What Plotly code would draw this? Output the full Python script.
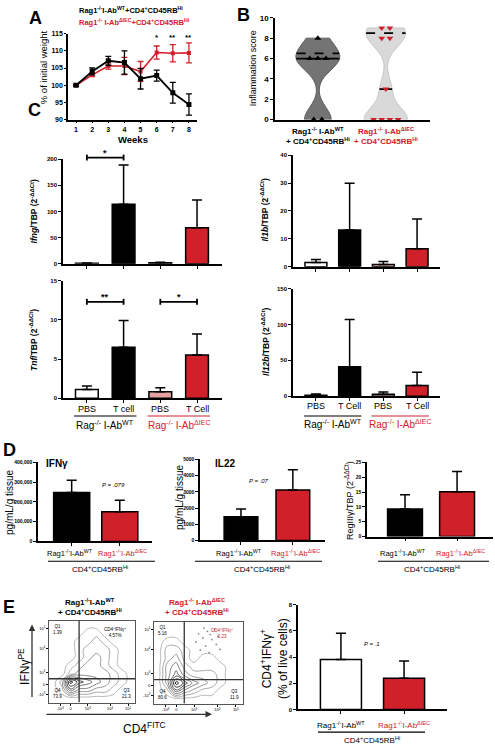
import numpy as np
import plotly.graph_objects as go

W, H = 495, 750
FONT = "Arial, 'Liberation Sans', sans-serif"
RED = "#d0202a"
PINK = "#e3a3a3"

# ---------------- data ----------------
# A: body weight
weeks = [1, 2, 3, 4, 5, 6, 7, 8]
wt_weight = [100, 104.0, 107.1, 106.6, 101.9, 102.8, 97.8, 94.4]
wt_weight_sem = [0.3, 1.0, 1.3, 3.4, 3.0, 1.6, 3.0, 3.1]
iec_weight = [100, 103.0, 105.6, 105.6, 104.0, 109.5, 109.3, 109.4]
iec_weight_sem = [0.2, 0.5, 0.9, 2.5, 2.9, 1.9, 2.5, 2.9]
weight_sig = ["", "", "", "", "", "*", "**", "**"]

# B: inflammation score
wt_scores = [8, 6, 6, 6, 0, 0]
iec_scores = [9, 9, 8, 8, 3, 0, 0, 0, 0]

# C: qPCR
c_groups_top = ["PBS", "T cell", "PBS", "T Cell"]
c_groups_il12 = ["PBS", "T Cell", "PBS", "T Cell"]
ifng_mean = [1.0, 114, 2.0, 69]
ifng_err = [0.5, 75, 1.0, 53]
ifng_sig = [((0, 1), 203, "*")]
il1b_mean = [1.5, 13.2, 0.8, 6.5]
il1b_err = [1.1, 16.7, 1.1, 10.6]
tnf_mean = [1.1, 6.5, 0.84, 5.5]
tnf_err = [0.45, 3.4, 0.5, 2.7]
tnf_sig = [((0, 1), 12.3, "**"), ((2, 3), 12.3, "*")]
il12b_mean = [1.5, 41, 2.8, 15]
il12b_err = [1.5, 66, 3.2, 18.5]

# D: cytokines
ifng_prot = [248000, 150000]
ifng_prot_err = [62000, 58000]
il22_prot = [1470, 3110]
il22_prot_err = [470, 1250]
reg3g = [9.3, 15.1]
reg3g_err = [4.8, 6.8]

# E: flow cytometry (contour level grids, rows bottom->top, cols left->right)
flow_wt_levels = [
    [0, 0, 0, 0, 0, 0, 0, 0, 0, 0],
    [0, 1, 5, 3, 3, 2, 2, 1, 0, 0],
    [0, 2, 8, 6, 5, 4, 3, 2, 1, 0],
    [0, 0, 2, 3, 3, 3, 3, 2, 1, 0],
    [0, 0, 1, 2, 3, 3, 2, 1, 0, 0],
    [0, 0, 0, 1, 2, 3, 2, 1, 0, 0],
    [0, 0, 0, 1, 2, 2, 2, 1, 0, 0],
    [0, 0, 0, 1, 1, 2, 1, 0, 0, 0],
    [0, 0, 0, 0, 1, 1, 0, 0, 0, 0],
    [0, 0, 0, 0, 0, 0, 0, 0, 0, 0],
]
flow_iec_levels = [
    [0, 0, 0, 0, 0, 0, 0, 0, 0, 0],
    [0, 1, 5, 3, 2, 1, 1, 0, 0, 0],
    [0, 3, 8, 6, 4, 3, 2, 1, 0, 0],
    [0, 3, 5, 3, 2, 2, 2, 1, 0, 0],
    [0, 3, 4, 2, 1, 1, 1, 1, 0, 0],
    [0, 2, 3, 1, 0, 1, 1, 0, 0, 0],
    [0, 2, 2, 1, 0, 0, 0, 0, 0, 0],
    [0, 1, 1, 0, 0, 0, 0, 0, 0, 0],
    [0, 0, 0, 0, 0, 0, 0, 0, 0, 0],
    [0, 0, 0, 0, 0, 0, 0, 0, 0, 0],
]
flow_iec_events_x = [0.50, 0.55, 0.60, 0.65, 0.58, 0.70, 0.52, 0.62, 0.47, 0.68, 0.74, 0.56, 0.63, 0.72]
flow_iec_events_y = [0.85, 0.80, 0.88, 0.78, 0.70, 0.72, 0.65, 0.62, 0.75, 0.90, 0.66, 0.92, 0.84, 0.82]
flow_ticks = ["-10<sup>3</sup>", "0", "10<sup>3</sup>", "10<sup>4</sup>", "10<sup>5</sup>"]
flow_wt_quadrants = ["1.39", "4.57%", "73.9", "21.3"]
flow_iec_quadrants = ["5.16", "2.23", "80.6", "11.9"]
flow_gate = {"F1": (0.35, 0.29), "F2": (0.34, 0.29)}

cd4_ifng = [3.82, 2.39]
cd4_ifng_err = [2.0, 1.3]

# ---------------- layout helpers ----------------
AX = {
    'A': dict(n='', xd=(68, 197), yd=(30, 117), xr=(0.5, 8.5), yr=(90, 115)),
    'B': dict(n='2', xd=(275, 430), yd=(14, 117), xr=(-0.63, 1.65), yr=(0, 10)),
    'C1': dict(n='3', xd=(63, 222), yd=(157, 263), xr=(-0.65, 3.68), yr=(0, 200)),
    'C2': dict(n='4', xd=(293, 440), yd=(153, 266), xr=(-0.68, 3.68), yr=(0, 40)),
    'C3': dict(n='5', xd=(63, 222), yd=(280, 399), xr=(-0.65, 3.68), yr=(0, 15)),
    'C4': dict(n='6', xd=(293, 440), yd=(288, 397), xr=(-0.68, 3.68), yr=(0, 150)),
    'D1': dict(n='7', xd=(38, 152), yd=(464, 544), xr=(-0.7, 1.67), yr=(0, 400000)),
    'D2': dict(n='8', xd=(200, 325), yd=(461, 543), xr=(-0.79, 1.62), yr=(0, 5000)),
    'D3': dict(n='9', xd=(367, 493), yd=(464, 539), xr=(-0.73, 1.69), yr=(0, 25)),
    'F1': dict(n='10', xd=(49, 135), yd=(624, 707), xr=(0, 1), yr=(0, 1)),
    'F2': dict(n='11', xd=(154, 243), yd=(625, 708), xr=(0, 1), yr=(0, 1)),
    'E': dict(n='12', xd=(298, 447), yd=(608, 714), xr=(-0.68, 1.68), yr=(0, 8)),
}


def X(key, v):
    a = AX[key]
    x0, x1 = a['xd']; r0, r1 = a['xr']
    return x0 + (v - r0) / (r1 - r0) * (x1 - x0)


def Y(key, v):
    a = AX[key]
    yt, yb = a['yd']; r0, r1 = a['yr']
    return yb - (v - r0) / (r1 - r0) * (yb - yt)


layout = {}
annotations = []
shapes = []


def tfont(size, color='black', bold=True):
    return dict(family=FONT, size=size, color=color, weight='bold' if bold else 'normal')


def setup(key, xextra=None, yextra=None):
    a = AX[key]; n = a['n']
    base = dict(showline=True, linecolor='black', linewidth=1.5, ticks='outside', ticklen=3,
                tickwidth=1.2, tickcolor='black', showgrid=False, zeroline=False,
                tickfont=tfont(6), fixedrange=True)
    layout['xaxis' + n] = {**base, 'domain': [a['xd'][0] / W, a['xd'][1] / W],
                           'range': list(a['xr']), 'anchor': 'y' + n, **(xextra or {})}
    layout['yaxis' + n] = {**base, 'domain': [1 - a['yd'][1] / H, 1 - a['yd'][0] / H],
                           'range': list(a['yr']), 'anchor': 'x' + n, **(yextra or {})}


def T(text, x, y, size=8, color='black', bold=False, italic=False, angle=0, xa='center', ya='middle'):
    annotations.append(dict(text=text, x=x / W, y=1 - y / H, xref='paper', yref='paper',
                            showarrow=False, textangle=angle, xanchor=xa, yanchor=ya,
                            font=dict(family=FONT, size=size, color=color,
                                      weight='bold' if bold else 'normal',
                                      style='italic' if italic else 'normal')))


def L(x0, y0, x1, y1, color='black', width=1.5, dash='solid'):
    shapes.append(dict(type='line', xref='paper', yref='paper', x0=x0 / W, y0=1 - y0 / H,
                       x1=x1 / W, y1=1 - y1 / H, line=dict(color=color, width=width, dash=dash)))


def ref(key):
    n = AX[key]['n']
    return dict(xaxis='x' + n, yaxis='y' + n)


fig = go.Figure()


def bars(key, means, errs, fills, width):
    fig.add_trace(go.Bar(x=list(range(len(means))), y=means, width=width,
                         marker=dict(color=fills, line=dict(color='black', width=1.5)),
                         error_y=dict(type='data', symmetric=False, array=errs,
                                      arrayminus=[0] * len(errs), color='black',
                                      thickness=1.5, width=5),
                         showlegend=False, hoverinfo='skip', **ref(key)))


def brackets(key, sigs):
    for (i, j), lvl, txt in sigs:
        xa, xb, yy = X(key, i), X(key, j), Y(key, lvl)
        L(xa, yy, xb, yy, width=1.8)
        L(xa, yy - 3, xa, yy + 3, width=1.8)
        L(xb, yy - 3, xb, yy + 3, width=1.8)
        T(txt, (xa + xb) / 2, yy - 5, size=9, bold=True)


# ---------------- Panel A ----------------
setup('A', dict(tickvals=weeks, tickfont=tfont(7), ticklen=2),
      dict(tickvals=[90, 95, 100, 105, 110, 115], tickfont=tfont(7), ticklen=2))
fig.add_trace(go.Scatter(x=weeks, y=iec_weight, mode='lines+markers',
                         line=dict(color=RED, width=1.6),
                         marker=dict(symbol='square', size=4, color=RED),
                         error_y=dict(type='data', array=iec_weight_sem, color=RED, thickness=1.3, width=3),
                         showlegend=False, **ref('A')))
fig.add_trace(go.Scatter(x=weeks, y=wt_weight, mode='lines+markers',
                         line=dict(color='black', width=1.8),
                         marker=dict(symbol='square', size=5, color='black'),
                         error_y=dict(type='data', array=wt_weight_sem, color='black', thickness=1.3, width=3),
                         showlegend=False, **ref('A')))
for w, s in zip(weeks, weight_sig):
    if s:
        T(s, X('A', w), Y('A', 114), size=8, bold=True)
T("A", 35, 14, size=18, bold=True)
T("Rag1<sup>-/-</sup>I-Ab<sup>WT</sup>+CD4<sup>+</sup>CD45RB<sup>Hi</sup>", 77, 6, size=7.5, bold=True, xa='left')
T("Rag1<sup>-/-</sup> I-Ab<sup>ΔIEC</sup>+CD4<sup>+</sup>CD45RB<sup>Hi</sup>", 77, 18, size=7.5, bold=True, color=RED, xa='left')
T("% of initial weight", 43, 64, size=9.5, angle=-90)
T("Weeks", 133, 137, size=9.5, bold=True)

# ---------------- Panel B ----------------
setup('B', dict(showticklabels=False, ticks=''),
      dict(tickvals=[0, 2, 4, 6, 8, 10], tickfont=tfont(8)))
BW = 1.2
VW = 0.64


def kde(vals, v):
    vals = np.asarray(vals, float)
    return float(np.sum(np.exp(-0.5 * ((v - vals) / BW) ** 2)))


for pos, vals, fill, lcol, msym, mcol in [
        (0, wt_scores, '#747474', '#5c5c5c', 'triangle-up', 'black'),
        (1, iec_scores, '#d9d9d9', '#c6c6c6', 'triangle-down', RED)]:
    fig.add_trace(go.Violin(x0=pos, y=vals, width=VW, bandwidth=BW, spanmode='hard',
                            scalemode='width', points=False, fillcolor=fill,
                            line=dict(color=lcol, width=1), opacity=1,
                            showlegend=False, hoverinfo='skip', **ref('B')))
    grid = np.linspace(min(vals), max(vals), 400)
    kmax = max(kde(vals, g) for g in grid)
    q1, med, q3 = np.percentile(vals, [25, 50, 75], method='weibull')
    for lvl, dash in [(q3, 'dash'), (med, 'solid')]:
        hw = VW / 2 * kde(vals, lvl) / kmax
        fig.add_trace(go.Scatter(x=[pos - hw, pos + hw], y=[lvl, lvl], mode='lines',
                                 line=dict(color='black', width=1.8, dash=dash),
                                 showlegend=False, hoverinfo='skip', **ref('B')))
    xs = []
    ys = []
    for v in sorted(set(vals), reverse=True):
        k = vals.count(v)
        for i in range(k):
            xs.append(pos + (i - (k - 1) / 2) * 0.12)
            ys.append(v)
    fig.add_trace(go.Scatter(x=xs, y=ys, mode='markers', cliponaxis=False,
                             marker=dict(symbol=msym, size=6, color=mcol),
                             showlegend=False, hoverinfo='skip', **ref('B')))
T("B", 243, 11, size=18, bold=True)
T("Inflammation score", 253, 65, size=9, angle=-90)
T("Rag1<sup>-/-</sup> I-Ab<sup>WT</sup>", X('B', 0), 129, size=8, bold=True)
T("+ CD4<sup>+</sup>CD45RB<sup>Hi</sup>", X('B', 0), 139, size=8, bold=True)
T("Rag1<sup>-/-</sup> I-Ab<sup>ΔIEC</sup>", X('B', 1), 129, size=8, bold=True, color=RED)
T("+ CD4<sup>+</sup>CD45RB<sup>Hi</sup>", X('B', 1), 139, size=8, bold=True, color=RED)

# ---------------- Panel C ----------------
c_fills = ['white', 'black', PINK, RED]
cat4 = dict(tickvals=[0, 1, 2, 3], showticklabels=False)
setup('C1', cat4, dict(tickvals=[0, 50, 100, 150, 200]))
setup('C2', cat4, dict(tickvals=[0, 10, 20, 30, 40]))
setup('C3', cat4, dict(tickvals=[0, 5, 10, 15]))
setup('C4', cat4, dict(tickvals=[0, 50, 100, 150]))
bars('C1', ifng_mean, ifng_err, c_fills, 0.62)
bars('C2', il1b_mean, il1b_err, c_fills, 0.65)
bars('C3', tnf_mean, tnf_err, c_fills, 0.62)
bars('C4', il12b_mean, il12b_err, c_fills, 0.65)
brackets('C1', ifng_sig)
brackets('C3', tnf_sig)
T("C", 34, 107, size=18, bold=True)
T("<i>Ifng</i>/TBP (2<sup>-ΔΔCt</sup>)", 34, 210, size=8.5, bold=True, angle=-90)
T("<i>Il1b</i>/TBP (2<sup>-ΔΔCt</sup>)", 265, 208, size=8.5, bold=True, angle=-90)
T("<i>Tnf</i>/TBP (2<sup>-ΔΔCt</sup>)", 34, 340, size=8.5, bold=True, angle=-90)
T("<i>Il12b</i>/TBP (2<sup>-ΔΔCt</sup>)", 266, 342, size=8.5, bold=True, angle=-90)
for key, labels, ylab, yline, ygrp in [('C3', c_groups_top, 410, 417, 426),
                                       ('C4', c_groups_il12, 407, 417, 425)]:
    for i, lab in enumerate(labels):
        T(lab, X(key, i), ylab, size=9)
    L(X(key, -0.35), yline, X(key, 1.35), yline, width=1.2)
    L(X(key, 1.65), yline, X(key, 3.35), yline, color=RED, width=1.2)
    T("Rag<sup>-/-</sup> I-Ab<sup>WT</sup>", X(key, 0.5), ygrp, size=10)
    T("Rag<sup>-/-</sup> I-Ab<sup>ΔIEC</sup>", X(key, 2.5), ygrp, size=10, color=RED)

# ---------------- Panel D ----------------
cat2 = dict(tickvals=[0, 1], showticklabels=False)
setup('D1', cat2, dict(tickvals=[0, 100000, 200000, 300000, 400000], tickformat=',', tickfont=tfont(5)))
setup('D2', cat2, dict(tickvals=[0, 1000, 2000, 3000, 4000, 5000], tickformat='d', tickfont=tfont(5)))
setup('D3', cat2, dict(tickvals=[0, 5, 10, 15, 20, 25], tickfont=tfont(5)))
bars('D1', ifng_prot, ifng_prot_err, ['black', RED], 0.75)
bars('D2', il22_prot, il22_prot_err, ['black', RED], 0.65)
bars('D3', reg3g, reg3g_err, ['black', RED], 0.67)
T("D", 9, 451, size=18, bold=True)
T("IFNγ", 57, 465, size=10, bold=True)
T("IL22", 225, 465, size=10, bold=True)
T("<i>P</i> = .079", 113, 487, size=6, italic=True)
T("<i>P</i> = .07", 259, 483, size=6, italic=True)
T("pg/mL/g tissue", 10, 505, size=10, angle=-90)
T("pg/mL/g tissue", 179, 500, size=10, angle=-90)
T("RegIIIγ/TBP (2<sup>-ΔΔCt</sup>)", 349, 503, size=9, angle=-90)
for key, lx0, lx1, cx in [('D1', 48, 155, 100), ('D2', 195, 322, 262), ('D3', 378, 489, 432)]:
    T("Rag1<sup>-/-</sup>I-Ab<sup>WT</sup>", X(key, 0) - 2, 556, size=7.5)
    T("Rag1<sup>-/-</sup>I-Ab<sup>ΔIEC</sup>", X(key, 1) + 3, 556, size=7.5, color=RED)
    L(lx0, 564, lx1, 564, width=1.2)
    T("CD4<sup>+</sup>CD45RB<sup>Hi</sup>", cx, 572, size=8)

# ---------------- Panel E: flow plots ----------------
ftick_x = [0.13, 0.25, 0.45, 0.71, 0.92]
ftick_y = [0.10, 0.22, 0.37, 0.66, 0.90]
gridc = list(np.linspace(0.05, 0.95, 10))
for key, levels in [('F1', flow_wt_levels), ('F2', flow_iec_levels)]:
    setup(key,
          dict(tickvals=ftick_x, ticktext=flow_ticks, tickfont=tfont(4, bold=False), mirror=True,
               linecolor='#555555', linewidth=1, ticklen=2, tickwidth=0.8),
          dict(tickvals=ftick_y, ticktext=flow_ticks, tickfont=tfont(4, bold=False), mirror=True,
               linecolor='#555555', linewidth=1, ticklen=2, tickwidth=0.8))
    fig.add_trace(go.Contour(z=levels, x=gridc, y=gridc, showscale=False, hoverinfo='skip',
                             contours=dict(coloring='lines', start=0.5, end=8, size=1),
                             colorscale=[[0, '#b0b0b0'], [0.5, '#707070'], [1, '#000000']],
                             line=dict(width=0.9, smoothing=1.3), **ref(key)))
    gx, gy = flow_gate[key]
    n = AX[key]['n']
    shapes.append(dict(type='line', xref='x' + n, yref='y' + n, x0=gx, x1=gx, y0=0, y1=1,
                       line=dict(color='#333333', width=1.3)))
    shapes.append(dict(type='line', xref='x' + n, yref='y' + n, x0=0, x1=1, y0=gy, y1=gy,
                       line=dict(color='#333333', width=1.3)))
fig.add_trace(go.Scatter(x=flow_iec_events_x, y=flow_iec_events_y, mode='markers',
                         marker=dict(size=1.8, color='#888888'), showlegend=False,
                         hoverinfo='skip', **ref('F2')))
for key, q, col in [('F1', flow_wt_quadrants, 'black'), ('F2', flow_iec_quadrants, RED)]:
    x0, x1 = AX[key]['xd']
    yt, yb = AX[key]['yd']
    T("Q1<br>" + q[0], x0 + 2, yt + 2, size=4.5, xa='left', ya='top')
    T("CD4<sup>+</sup>IFNγ<sup>+</sup><br>" + q[1], x0 + 0.62 * (x1 - x0), yt + 4, size=4.5,
      color=col, xa='left', ya='top')
    T("Q4<br>" + q[2], x0 + 2, yb - 2, size=4.5, xa='left', ya='bottom')
    T("Q3<br>" + q[3], x1 - 2, yb - 2, size=4.5, xa='right', ya='bottom')
T("E", 9, 610, size=18, bold=True)
T("Rag1<sup>-/-</sup>I-Ab<sup>WT</sup>", 90, 605, size=8, bold=True)
T("+ CD4<sup>+</sup>CD45RB<sup>Hi</sup>", 90, 615, size=8, bold=True)
T("Rag1<sup>-/-</sup> I-Ab<sup>ΔIEC</sup>", 197, 605, size=8, bold=True, color=RED)
T("+ CD4<sup>+</sup>CD45RB<sup>Hi</sup>", 197, 615, size=8, bold=True, color=RED)
annotations.append(dict(x=32 / W, y=1 - 628 / H, xref='paper', yref='paper', text='',
                        showarrow=True, ax=0, ay=74, arrowhead=2, arrowsize=1, arrowwidth=1.3,
                        arrowcolor='#333333'))
annotations.append(dict(x=212 / W, y=1 - 719 / H, xref='paper', yref='paper', text='',
                        showarrow=True, ax=-167, ay=0, arrowhead=2, arrowsize=1, arrowwidth=1.3,
                        arrowcolor='#333333'))
T("IFNγ<sup>PE</sup>", 24, 671, size=12, angle=-90)
T("CD4<sup>FITC</sup>", 144, 733, size=12)

# ---------------- Panel E: bar ----------------
setup('E', cat2, dict(tickvals=[0, 2, 4, 6, 8], tickfont=tfont(6)))
bars('E', cd4_ifng, cd4_ifng_err, ['white', RED], 0.65)
T("<i>P</i> = .1", 372, 648, size=6, italic=True)
T("CD4<sup>+</sup>IFNγ<sup>+</sup><br>(% of live cells)", 274, 663, size=12, angle=-90)
T("Rag1<sup>-/-</sup>I-Ab<sup>WT</sup>", X('E', 0), 730, size=8)
T("Rag1<sup>-/-</sup>I-Ab<sup>ΔIEC</sup>", X('E', 1), 730, size=8, color=RED)
L(318, 737, 425, 737, width=1.2)
T("CD4<sup>+</sup>CD45RB<sup>Hi</sup>", 372, 745, size=8)

fig.update_layout(width=W, height=H, margin=dict(l=0, r=0, t=0, b=0),
                  paper_bgcolor='white', plot_bgcolor='rgba(0,0,0,0)',
                  showlegend=False, annotations=annotations, shapes=shapes,
                  font=dict(family=FONT), violinmode='overlay', **layout)
fig.write_html("out.html", config={'displayModeBar': False},
               post_script="document.body.style.margin='0';document.body.style.overflow='hidden';")
